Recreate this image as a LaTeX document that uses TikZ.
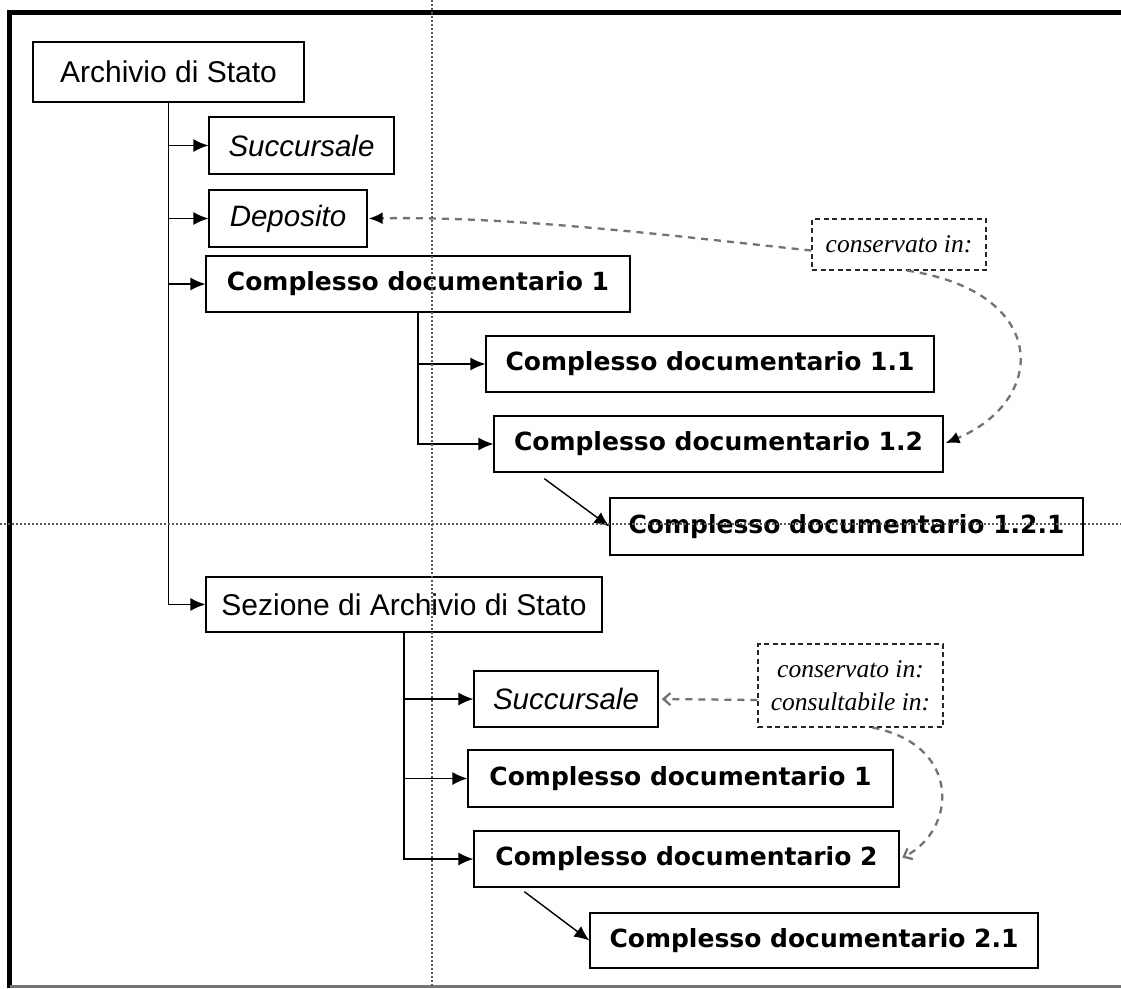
\documentclass[tikz,border=0pt]{standalone}
\usepackage{fontspec}
\setmainfont{Liberation Sans}
\newfontfamily\dvs{DejaVu Sans}
\newfontfamily\lserif{Liberation Serif}
\usetikzlibrary{arrows.meta,positioning}
\tikzset{
  box/.style={draw=black, line width=1.3pt, fill=white, inner sep=0pt, align=center},
  reg/.style={box, font=\fontsize{30}{36}\selectfont},
  ital/.style={box, font=\fontsize{29.5}{36}\selectfont\itshape},
  bld/.style={box, font=\dvs\bfseries\fontsize{25}{30}\selectfont},
  lab/.style={draw=black!85, line width=1.1pt, dash pattern=on 5pt off 3.5pt, fill=white, inner sep=0pt, align=center, font=\lserif\itshape\fontsize{25.5}{33}\selectfont},
  arr/.style={draw=black, line width=1.4pt, -{Latex[length=15pt,width=13pt]}},
  dasharr/.style={draw=black!55, line width=2.3pt, dash pattern=on 7pt off 6pt},
  guide/.style={draw=black!65, line width=1.2pt, dash pattern=on 1.5pt off 2.5pt},
}
\begin{document}
\begin{tikzpicture}[x=1pt,y=-1pt]
\useasboundingbox (0,0) rectangle (1121,988);
\fill[white] (0,0) rectangle (1121,988);
% outer frame
\draw[line width=5pt, black] (9.5,988) -- (9.5,12.5) -- (1121,12.5);
\draw[line width=2.5pt, black!55] (9.5,986.5) -- (1121,986.5);

% nodes
\node[reg, minimum width=271pt, minimum height=60pt] (arch) at (168.5,72) {Archivio di Stato};
\node[ital, minimum width=185pt, minimum height=57pt] (succ1) at (301.5,145.5) {Succursale};
\node[ital, minimum width=158pt, minimum height=57pt] (depo) at (288,218.5) {Deposito};
\node[bld, minimum width=424pt, minimum height=56pt] (cd1) at (418,284) {Complesso documentario 1};
\node[bld, minimum width=448pt, minimum height=56pt] (cd11) at (710,364) {Complesso documentario 1.1};
\node[bld, minimum width=449pt, minimum height=56pt] (cd12) at (718.5,444) {Complesso documentario 1.2};
\node[bld, minimum width=473pt, minimum height=57pt] (cd121) at (846.5,526.5) {Complesso documentario 1.2.1};
\node[reg, minimum width=396pt, minimum height=55pt] (sez) at (404,604.5) {Sezione di Archivio di Stato};
\node[ital, minimum width=184pt, minimum height=56pt] (succ2) at (566,699) {Succursale};
\node[bld, minimum width=425pt, minimum height=57pt] (cd1b) at (680.5,778.5) {Complesso documentario 1};
\node[bld, minimum width=425pt, minimum height=56pt] (cd2) at (686.5,859) {Complesso documentario 2};
\node[bld, minimum width=448pt, minimum height=55pt] (cd21) at (814,940.5) {Complesso documentario 2.1};
\node[lab, minimum width=174pt, minimum height=51pt] (lab1) at (899,244.5) {conservato in:};
\node[lab, minimum width=185pt, minimum height=83pt] (lab2) at (850.5,685.5) {conservato in:\\consultabile in:};

% tree connectors
\draw[arr] (arch.south) |- (succ1.west);
\draw[arr] (arch.south) |- (depo.west);
\draw[arr] (arch.south) |- (cd1.west);
\draw[arr] (arch.south) |- (sez.west);
\draw[arr] (cd1.south) |- (cd11.west);
\draw[arr] (cd1.south) |- (cd12.west);
\draw[arr] ([xshift=51pt,yshift=-6pt]cd12.south west) -- (cd121.west);
\draw[arr] (sez.south) |- (succ2.west);
\draw[arr] (sez.south) |- (cd1b.west);
\draw[arr] (sez.south) |- (cd2.west);
\draw[arr] ([xshift=51pt,yshift=-4pt]cd2.south west) -- (cd21.west);

% dashed relations
\draw[dasharr, -{Latex[length=14pt,width=12pt,fill=black,color=black]}, shorten >=1pt]
  ([yshift=-6pt]lab1.west) .. controls (690,238) and (520,216) .. (depo.east);
\draw[dasharr, -{Latex[length=14pt,width=12pt,fill=black,color=black]}, shorten >=2pt]
  ([xshift=8pt]lab1.south) .. controls (1050,292) and (1048,400) .. (cd12.east);
\draw[dasharr, -{Straight Barb[length=7pt,width=12pt]}, shorten >=3pt]
  ([yshift=-14.5pt]lab2.west) -- (succ2.east);
\draw[dasharr, -{Straight Barb[length=7pt,width=12pt]}, shorten >=3pt]
  ([xshift=22pt]lab2.south) .. controls (962,745) and (957,830) .. (cd2.east);

% dotted guides
\draw[guide] (432,0) -- (432,988);
\draw[guide] (0,524) -- (1121,524);
\end{tikzpicture}
\end{document}
